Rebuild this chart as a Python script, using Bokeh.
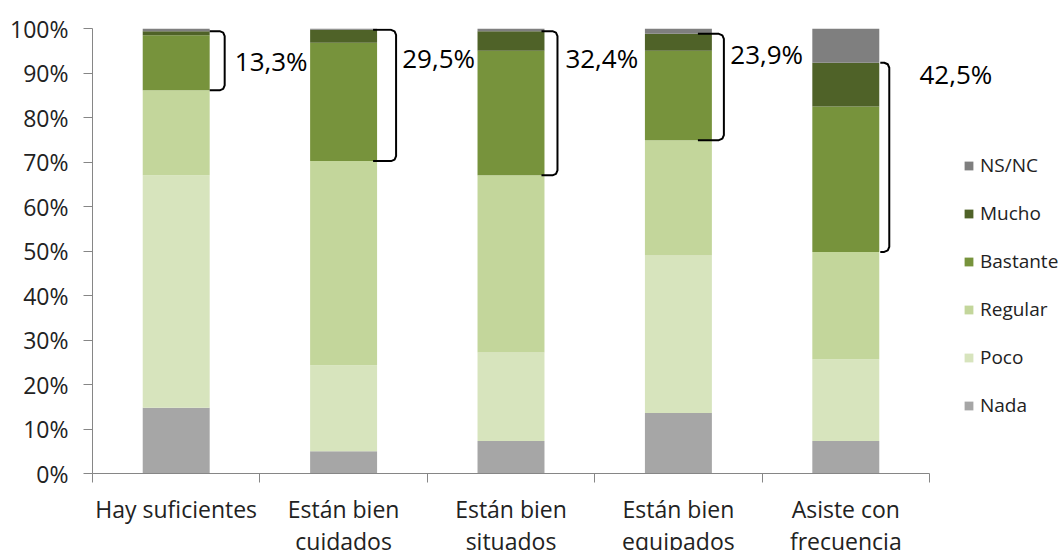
import numpy as np
from bokeh.plotting import figure
from bokeh.models import (ColumnDataSource, Legend, LegendItem, FixedTicker,
                          PrintfTickFormatter, Range1d, LabelSet)
from bokeh.core.properties import value
from bokeh.embed import file_html
from bokeh.resources import INLINE

# ---------------- data ----------------
categories = ["Hay suficientes", "Están bien\ncuidados", "Están bien\nsituados",
              "Están bien\nequipados", "Asiste con\nfrecuencia"]
series = ["Nada", "Poco", "Regular", "Bastante", "Mucho", "NS/NC"]
nada = [14.8, 5.0, 7.3, 13.6, 7.3]
poco = [52.2, 19.3, 19.9, 35.4, 18.4]
regular = [19.1, 45.9, 39.8, 25.9, 24.1]
bastante = [12.4, 26.6, 28.0, 20.1, 32.7]
mucho = [0.9, 2.9, 4.4, 3.8, 9.8]
nsnc = [0.6, 0.3, 0.6, 1.2, 7.7]
y_ticks = [0, 10, 20, 30, 40, 50, 60, 70, 80, 90, 100]

# ---------------- styles / layout ----------------
colors = ["#A6A6A6", "#D7E4BD", "#C3D69B", "#77933C", "#4F6228", "#7F7F7F"]
FONT = "Open Sans"
AXIS_COLOR = "#868686"
TEXT_COLOR = "#222222"
CAT_PX = 837                         # pixel width of the 5 categories
FRAME_W, FRAME_H = 970, 445
n = len(categories)
PX_X = n / CAT_PX                    # data units per pixel (x)
PX_Y = 100.0 / FRAME_H               # data units per pixel (y)
# bracket geometry (pixels relative to bar right edge)
br_start_px = [0, -4, -3, -14, 1]
br_vert_px = [15, 19, 13, 12, 10]
# bracket label placement (x offset from bar centre in category units, y in %)
lab_dx = [0.35, 0.35, 0.325, 0.31, 0.44]
lab_y = [92.7, 93.4, 93.4, 94.3, 89.8]

xc = np.arange(n) + 0.5
data = dict(x=xc, Nada=nada, Poco=poco, Regular=regular,
            Bastante=bastante, Mucho=mucho)
data["NS/NC"] = nsnc
source = ColumnDataSource(data)

p = figure(frame_width=FRAME_W, frame_height=FRAME_H,
           x_range=Range1d(0, FRAME_W * PX_X), y_range=Range1d(0, 100),
           output_backend="svg", toolbar_location=None,
           min_border_left=92, min_border_right=0,
           min_border_top=28, min_border_bottom=60)
p.outline_line_color = None
p.xgrid.visible = False
p.ygrid.visible = False
p.background_fill_color = "white"
p.border_fill_color = "white"

renderers = p.vbar_stack(series, x="x", width=0.4, source=source,
                         color=colors, line_color=None)

# y axis
ya = p.yaxis[0]
ya.ticker = FixedTicker(ticks=y_ticks, minor_ticks=[])
ya.formatter = PrintfTickFormatter(format="%d%%")
ya.axis_line_color = AXIS_COLOR
ya.major_tick_line_color = AXIS_COLOR
ya.major_tick_out = 9
ya.major_tick_in = 0
ya.minor_tick_line_color = None
ya.major_label_standoff = 15
ya.major_label_text_font = FONT
ya.major_label_text_font_size = "23px"
ya.major_label_text_color = TEXT_COLOR

# x axis: labels at centres, tick marks at category boundaries
xa = p.xaxis[0]
xa.bounds = (0, n)
xa.ticker = FixedTicker(ticks=list(xc), minor_ticks=list(range(n + 1)))
xa.major_label_overrides = {float(x): c for x, c in zip(xc, categories)}
xa.axis_line_color = AXIS_COLOR
xa.major_tick_line_color = None
xa.major_tick_out = 0
xa.major_tick_in = 0
xa.minor_tick_line_color = AXIS_COLOR
xa.minor_tick_out = 9
xa.minor_tick_in = 0
xa.major_label_standoff = 10
xa.major_label_text_font = FONT
xa.major_label_text_font_size = "23px"
xa.major_label_text_color = TEXT_COLOR
xa.major_label_text_line_height = 1.0

# brackets over Bastante + Mucho
cum = np.cumsum(np.array([nada, poco, regular, bastante, mucho, nsnc]), axis=0)
r_px = 5
for i in range(n):
    ytop = cum[4][i]
    ybot = cum[2][i]
    xr = xc[i] + 0.2
    xs = xr + br_start_px[i] * PX_X
    xv = xr + br_vert_px[i] * PX_X
    rx = r_px * PX_X
    ry = r_px * PX_Y
    px = [xs, xv - rx, xv - rx * 0.3, xv, xv, xv - rx * 0.3, xv - rx, xs]
    py = [ytop, ytop, ytop - ry * 0.3, ytop - ry, ybot + ry, ybot + ry * 0.3, ybot, ybot]
    p.line(px, py, line_color="black", line_width=2)

labels = [f"{b + m:.1f}".replace(".", ",") + "%" for b, m in zip(bastante, mucho)]
lab_src = ColumnDataSource(dict(x=xc + np.array(lab_dx), y=lab_y, text=labels))
p.add_layout(LabelSet(x="x", y="y", text="text", source=lab_src,
                      text_font=value(FONT), text_font_size=value("26px"),
                      text_color="black", text_baseline="middle",
                      text_align="left"))

items = [LegendItem(label=s, renderers=[r]) for s, r in zip(series, renderers)][::-1]
legend = Legend(items=items, location=(871, 55),
                label_text_font=FONT, label_text_font_size="19px",
                label_text_color=TEXT_COLOR,
                glyph_width=11, glyph_height=11, label_standoff=6,
                spacing=22, padding=0, margin=0,
                border_line_color=None, background_fill_alpha=0)
p.add_layout(legend, "center")

open("out.html", "w").write(file_html(p, INLINE))
